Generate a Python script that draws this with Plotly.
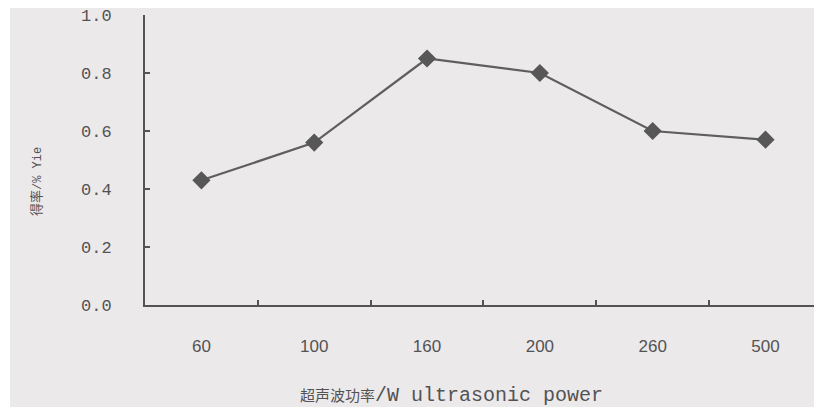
import plotly.graph_objects as go

# Yield vs. ultrasonic power
power_labels = ["60", "100", "160", "200", "260", "500"]
yield_values = [0.43, 0.56, 0.85, 0.80, 0.60, 0.57]
y_ticks = [0.0, 0.2, 0.4, 0.6, 0.8, 1.0]
y_tick_text = ["0.0", "0.2", "0.4", "0.6", "0.8", "1.0"]

ink = "#535353"
paper = "#ece9eb"

fig = go.Figure()
fig.add_trace(go.Scatter(
    x=power_labels,
    y=yield_values,
    mode="lines+markers",
    line=dict(color="#5e5e5e", width=2.2),
    marker=dict(symbol="diamond", size=14, color="#575757"),
    showlegend=False,
    hoverinfo="skip",
))

# white scan margin along the top and left edges
fig.add_shape(type="rect", xref="paper", yref="paper",
              x0=-145 / 669, x1=1.0, y0=1 + 7 / 290, y1=1 + 15 / 290,
              fillcolor="white", line_width=0, layer="below")
fig.add_shape(type="rect", xref="paper", yref="paper",
              x0=-145 / 669, x1=-135 / 669, y0=-102 / 290, y1=1 + 15 / 290,
              fillcolor="white", line_width=0, layer="below")

fig.add_annotation(
    text='<span style="font-size:13px">得率</span>/% Yie', textangle=-90,
    xref="paper", yref="paper", x=(37 - 145) / 669, y=(305 - 182) / 290,
    showarrow=False, xanchor="center", yanchor="middle",
    font=dict(family="Liberation Mono, Noto Sans CJK SC", size=12, color=ink),
)
fig.add_annotation(
    text='<span style="font-size:15px">超声波功率</span>/W ultrasonic power',
    xref="paper", yref="paper", x=(451 - 145) / 669, y=(305 - 395) / 290,
    showarrow=False, xanchor="center", yanchor="middle",
    font=dict(family="Liberation Mono, Noto Sans CJK SC", size=20, color=ink),
)

fig.update_xaxes(
    type="category",
    range=[-0.5, 5.43],
    showline=True, linecolor=ink, linewidth=2,
    ticks="inside", tickson="boundaries", ticklen=5, tickwidth=2, tickcolor=ink,
    showgrid=False, zeroline=False,
    ticklabelstandoff=25,
    tickfont=dict(family="Liberation Sans, Arial", size=17, color=ink),
)
fig.update_yaxes(
    range=[0, 1.0],
    tickvals=y_ticks, ticktext=y_tick_text,
    showline=True, linecolor=ink, linewidth=2,
    ticks="inside", ticklen=5, tickwidth=2, tickcolor=ink,
    showgrid=False, zeroline=False,
    ticklabelstandoff=28,
    tickfont=dict(family="Liberation Mono", size=17, color=ink),
)

fig.update_layout(
    width=814, height=407,
    margin=dict(l=145, r=0, t=15, b=102),
    paper_bgcolor=paper, plot_bgcolor=paper,
)

fig.write_html("out.html")
